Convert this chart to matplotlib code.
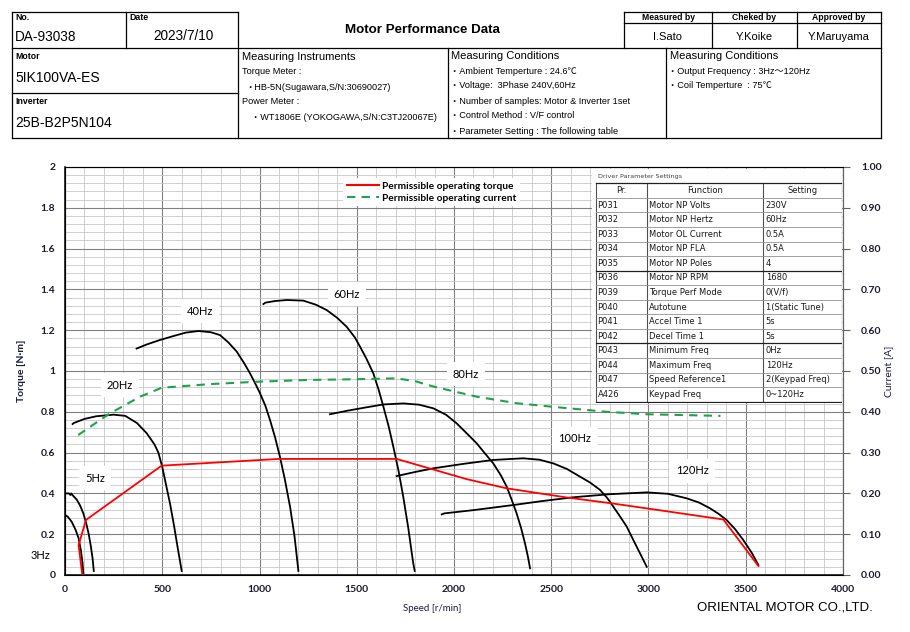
import matplotlib
matplotlib.use('Agg')
import matplotlib.pyplot as plt
from matplotlib.ticker import MultipleLocator
from matplotlib.lines import Line2D

plt.rcParams['font.family'] = ['Liberation Sans', 'Noto Sans CJK JP', 'DejaVu Sans']

# ---- torque curves (speed r/min, torque N*m) ----
spd_3 = [0, 15, 35, 55, 70, 82, 90, 94]
trq_3 = [0.295, 0.285, 0.26, 0.22, 0.18, 0.12, 0.06, 0.01]

spd_5 = [0, 20, 28, 32, 40, 60, 78, 95, 110, 122, 133, 142, 148]
trq_5 = [0.40, 0.40, 0.392, 0.40, 0.39, 0.37, 0.34, 0.30, 0.25, 0.20, 0.14, 0.08, 0.02]

spd_20 = [39, 45, 100, 160, 250, 310, 370, 420, 460, 480, 500, 520, 540, 560, 580, 600]
trq_20 = [0.74, 0.745, 0.765, 0.778, 0.786, 0.78, 0.745, 0.695, 0.64, 0.60, 0.53, 0.44, 0.35, 0.245, 0.13, 0.02]

spd_40 = [368, 420, 488, 560, 620, 686, 750, 797, 840, 883, 920, 951, 980, 1003, 1030, 1054,
          1080, 1105, 1130, 1157, 1180, 1200]
trq_40 = [1.11, 1.13, 1.152, 1.172, 1.188, 1.196, 1.19, 1.176, 1.14, 1.095, 1.04, 0.989, 0.935, 0.89,
          0.83, 0.76, 0.675, 0.58, 0.47, 0.335, 0.19, 0.02]

spd_60 = [1020, 1030, 1080, 1140, 1225, 1290, 1345, 1400, 1448, 1490, 1517, 1550, 1585, 1612,
          1637, 1665, 1688, 1715, 1739, 1765, 1790, 1798]
trq_60 = [1.328, 1.335, 1.343, 1.348, 1.345, 1.325, 1.299, 1.26, 1.217, 1.165, 1.119, 1.06, 0.989,
          0.91, 0.825, 0.725, 0.629, 0.51, 0.384, 0.23, 0.06, 0.02]

spd_80 = [1362, 1450, 1550, 1637, 1739, 1820, 1894, 1960, 2014, 2070, 2117, 2160, 2202, 2240,
          2271, 2300, 2322, 2345, 2365, 2380, 2391]
trq_80 = [0.788, 0.805, 0.822, 0.836, 0.841, 0.835, 0.817, 0.785, 0.743, 0.69, 0.645, 0.595,
          0.547, 0.49, 0.433, 0.36, 0.302, 0.23, 0.155, 0.09, 0.033]

spd_100 = [1705, 1800, 1894, 2050, 2202, 2356, 2440, 2511, 2580, 2648, 2700, 2751, 2790, 2819,
           2855, 2888, 2915, 2939, 2965, 2991]
trq_100 = [0.485, 0.505, 0.523, 0.545, 0.564, 0.572, 0.565, 0.547, 0.52, 0.482, 0.453, 0.417,
           0.375, 0.335, 0.285, 0.237, 0.185, 0.139, 0.09, 0.04]

spd_120 = [1937, 1950, 2100, 2305, 2450, 2613, 2800, 2991, 3100, 3196, 3260, 3316, 3360, 3401,
           3445, 3487, 3530, 3565]
trq_120 = [0.297, 0.302, 0.318, 0.343, 0.362, 0.381, 0.396, 0.405, 0.398, 0.376, 0.355, 0.327,
           0.30, 0.27, 0.225, 0.172, 0.11, 0.049]

curves = [(spd_3, trq_3), (spd_5, trq_5), (spd_20, trq_20), (spd_40, trq_40),
          (spd_60, trq_60), (spd_80, trq_80), (spd_100, trq_100), (spd_120, trq_120)]

# permissible operating torque / current
perm_spd = [89, 70, 108, 497, 1100, 1705, 2065, 2270, 2580, 2820, 3010, 3385, 3565]
perm_trq = [0, 0.147, 0.27, 0.536, 0.569, 0.569, 0.47, 0.425, 0.38, 0.35, 0.324, 0.272, 0.044]

cur_spd = [68, 150, 231, 386, 497, 750, 1003, 1250, 1517, 1705, 1800, 1894, 2000, 2117, 2322,
           2579, 2785, 2991, 3370]
cur_amp = [0.343, 0.37, 0.396, 0.437, 0.459, 0.468, 0.474, 0.478, 0.480, 0.482, 0.475, 0.462,
           0.45, 0.437, 0.421, 0.409, 0.400, 0.394, 0.39]

freq_labels = ['3Hz', '5Hz', '20Hz', '40Hz', '60Hz', '80Hz', '100Hz', '120Hz']
label_spd = [-128, 154, 283, 694, 1450, 2062, 2622, 3224]
label_trq = [0.098, 0.475, 0.931, 1.294, 1.377, 0.985, 0.667, 0.51]

# driver parameter table
par_no = ['P031', 'P032', 'P033', 'P034', 'P035', 'P036', 'P039', 'P040', 'P041', 'P042',
          'P043', 'P044', 'P047', 'A426']
par_func = ['Motor NP Volts', 'Motor NP Hertz', 'Motor OL Current', 'Motor NP FLA',
            'Motor NP Poles', 'Motor NP RPM', 'Torque Perf Mode', 'Autotune', 'Accel Time 1',
            'Decel Time 1', 'Minimum Freq', 'Maximum Freq', 'Speed Reference1', 'Keypad Freq']
par_set = ['230V', '60Hz', '0.5A', '0.5A', '4', '1680', '0(V/f)', '1(Static Tune)', '5s', '5s',
           '0Hz', '120Hz', '2(Keypad Freq)', '0~120Hz']

y_ticks = [0, 0.2, 0.4, 0.6, 0.8, 1.0, 1.2, 1.4, 1.6, 1.8, 2.0]
y_tick_labels = ['0', '0.2', '0.4', '0.6', '0.8', '1', '1.2', '1.4', '1.6', '1.8', '2']
x_ticks = [0, 500, 1000, 1500, 2000, 2500, 3000, 3500, 4000]

fig = plt.figure(figsize=(9.1, 6.32), dpi=100)

# ---------------- header block (pixel coordinates) ----------------
hd = fig.add_axes([0, 0, 1, 1])
hd.set_xlim(0, 910)
hd.set_ylim(632, 0)
hd.axis('off')

def hline(y, x0, x1):
    hd.plot([x0, x1], [y, y], color='black', lw=0.9)

def vline(x, y0, y1):
    hd.plot([x, x], [y0, y1], color='black', lw=0.9)

hline(11.7, 12, 238)
hline(11.7, 624, 881)
hline(23.3, 624, 881)
hline(47.7, 12, 881)
hline(93.3, 12, 238)
hline(137.7, 12, 881)
vline(12, 11.7, 137.7)
vline(125.7, 11.7, 47.7)
vline(238, 11.7, 137.7)
vline(448.3, 47.7, 137.7)
vline(666, 47.7, 137.7)
vline(624.3, 11.7, 47.7)
vline(711.7, 11.7, 47.7)
vline(796.7, 11.7, 47.7)
vline(881, 11.7, 137.7)

def ht(x, y, s, size, weight='normal', ha='left'):
    hd.text(x, y, s, fontsize=size, fontweight=weight, ha=ha, va='center')

ht(15, 18, 'No.', 6.3, 'bold')
ht(15, 37, 'DA-93038', 9.8)
ht(129, 17.5, 'Date', 6.3, 'bold')
ht(183, 36, '2023/7/10', 9.8, ha='center')
ht(422, 30, 'Motor Performance Data', 9.6, 'bold', 'center')
ht(668, 17.5, 'Measured by', 6.2, 'bold', 'center')
ht(754, 17.5, 'Cheked by', 6.2, 'bold', 'center')
ht(839, 17.5, 'Approved by', 6.2, 'bold', 'center')
ht(668, 36.5, 'I.Sato', 8, ha='center')
ht(754, 36.5, 'Y.Koike', 8, ha='center')
ht(839, 36.5, 'Y.Maruyama', 8, ha='center')
ht(15, 56.5, 'Motor', 6.3, 'bold')
ht(15, 77.5, '5IK100VA-ES', 10)
ht(15, 101.5, 'Inverter', 6.3, 'bold')
ht(15, 123, '25B-B2P5N104', 10)
ht(242, 57, 'Measuring Instruments', 8)
ht(242, 72, 'Torque Meter :', 6.6)
ht(245, 87, '・HB-5N(Sugawara,S/N:30690027)', 6.6)
ht(242, 101.5, 'Power Meter :', 6.6)
ht(251, 117, '・WT1806E (YOKOGAWA,S/N:C3TJ20067E)', 6.6)
ht(451, 56, 'Measuring Conditions', 8)
ht(450, 71, '・Ambient Temperture : 24.6℃', 6.6)
ht(450, 86, '・Voltage:  3Phase 240V,60Hz', 6.6)
ht(450, 101, '・Number of samples: Motor & Inverter 1set', 6.6)
ht(450, 116, '・Control Method : V/F control', 6.6)
ht(450, 131, '・Parameter Setting : The following table', 6.6)
ht(670, 56, 'Measuring Conditions', 8)
ht(668, 71, '・Output Frequency : 3Hz～120Hz', 6.6)
ht(668, 86, '・Coil Temperture  : 75℃', 6.6)

# ---------------- main chart ----------------
ax = fig.add_axes([65 / 910, 57 / 632, 778 / 910, 408 / 632])
ax.set_xlim(0, 4000)
ax.set_ylim(0, 2)
ax.set_axisbelow(True)
ax.xaxis.set_minor_locator(MultipleLocator(100))
ax.yaxis.set_minor_locator(MultipleLocator(0.04))
ax.grid(which='minor', color='#c8c8c8', lw=0.6)
ax.grid(which='major', color='#808080', lw=0.8)
ax.tick_params(which='both', length=0, pad=7)
tick_font = dict(fontfamily='Lato', fontweight='bold', fontsize=7.5, color='#1a1a2e')
ax.set_xticks(x_ticks, labels=[str(v) for v in x_ticks], **tick_font)
ax.set_yticks(y_ticks, labels=y_tick_labels, **tick_font)
for side in ['left', 'bottom']:
    ax.spines[side].set_color('black')
    ax.spines[side].set_linewidth(1.1)
ax.spines['top'].set_color('#808080')
ax.spines['right'].set_color('#606060')

for spd, trq in curves:
    ax.plot(spd, trq, color='black', lw=1.3, zorder=3)
ax.plot(perm_spd, perm_trq, color='#ff0000', lw=1.3, zorder=4)

for s, x, y in zip(freq_labels, label_spd, label_trq):
    ax.text(x, y, s, fontfamily='Lato', fontsize=8, ha='center', va='center', zorder=5,
            clip_on=False,
            bbox=dict(boxstyle='square,pad=0.55', facecolor='white', edgecolor='none')
            if s != '3Hz' else None)

ax.set_xlabel('Speed [r/min]', fontfamily='Lato', fontsize=7, color='#1a1a40')
ax.xaxis.set_label_coords((432 - 65) / 778, (575 - 604) / 408)
ax.set_ylabel('Torque [N·m]', fontfamily='Lato', fontweight='bold', fontsize=7.5, color='#1a1a40')
ax.yaxis.set_label_coords((26 - 65) / 778, 0.5)

ax2 = ax.twinx()
ax2.set_ylim(0, 1)
ax2.set_yticks([i / 10 for i in range(11)],
               labels=['%.2f' % (i / 10) for i in range(11)], **tick_font)
ax2.tick_params(axis='y', direction='out', length=5, color='#606060', pad=8)
ax2.spines['right'].set_color('#606060')
ax2.plot(cur_spd, cur_amp, color='#1ea24a', lw=1.5, ls=(0, (4, 3)), zorder=4)
ax2.set_ylabel('Current [A]', fontfamily='Lato', fontsize=7.5, color='#1a1a40')
ax2.yaxis.set_label_coords((884 - 65) / 778, 0.5)

handles = [Line2D([], [], color='#ff0000', lw=1.5),
           Line2D([], [], color='#1ea24a', lw=1.5, ls=(0, (4, 3)))]
ax2.legend(handles, ['Permissible operating torque', 'Permissible operating current'],
           loc='upper left', bbox_to_anchor=((338 - 65) / 778, (575 - 173) / 408),
           frameon=True, fancybox=False, edgecolor='none', facecolor='white', framealpha=1,
           prop=dict(family='Lato', weight='bold', size=7.3), handlelength=3.2,
           borderpad=0.35, labelspacing=0.3, handletextpad=0.3)

fig.text(785 / 910, 1 - 607 / 632, 'ORIENTAL MOTOR CO.,LTD.', ha='center', va='center',
         fontsize=9.5, family=['Liberation Sans Narrow', 'Liberation Sans'])

# ---------------- driver parameter table ----------------
tb = fig.add_axes([592 / 910, (632 - 403) / 632, 250 / 910, 234 / 632])
tb.set_xlim(0, 250)
tb.set_ylim(234, 0)
tb.set_xticks([])
tb.set_yticks([])
for s in tb.spines.values():
    s.set_visible(False)
tb.set_facecolor('white')

tb.text(6, 7, 'Driver Parameter Settings', fontsize=4.6, color='#404040',
        fontfamily='DejaVu Sans', va='center')
top, rh = 14.3, 14.56
cols = [3.5, 54.7, 171.3, 249.5]
nrows = len(par_no) + 1
bottom = top + nrows * rh
for x in cols:
    tb.plot([x, x], [top, bottom], color='#505050', lw=0.8)
for i in range(nrows + 1):
    y = top + i * rh
    dark = i in (0, 6, 11, nrows)
    tb.plot([cols[0], cols[-1]], [y, y], color='#202020' if dark else '#909090',
            lw=0.9 if dark else 0.6)

cell_font = dict(fontfamily='DejaVu Sans', fontsize=6, va='center', color='#1a1a1a')
yh = top + rh / 2
tb.text((cols[0] + cols[1]) / 2, yh, 'Pr.', ha='center', **cell_font)
tb.text((cols[1] + cols[2]) / 2, yh, 'Function', ha='center', **cell_font)
tb.text((cols[2] + cols[3]) / 2, yh, 'Setting', ha='center', **cell_font)
for i, (a, b, c) in enumerate(zip(par_no, par_func, par_set)):
    yc = top + (i + 1.5) * rh
    tb.text(cols[0] + 2, yc, a, ha='left', **cell_font)
    tb.text(cols[1] + 2.5, yc, b, ha='left', **cell_font)
    tb.text(cols[2] + 2.5, yc, c, ha='left', **cell_font)

fig.savefig('out.png', dpi=100)
